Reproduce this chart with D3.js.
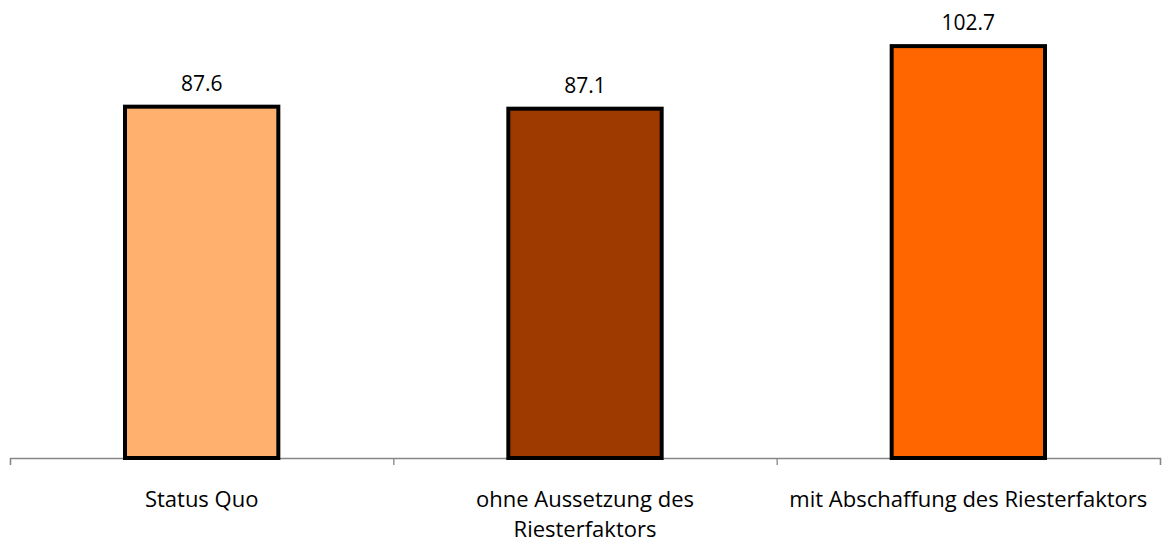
<!DOCTYPE html>
<html>
<head>
<meta charset="utf-8">
<script src="https://cdn.jsdelivr.net/npm/d3@7"></script>
<style>
  html, body { margin: 0; padding: 0; background: #fff; }
  svg { display: block; font-family: "Open Sans", "Noto Sans", sans-serif; }
</style>
</head>
<body>
<svg id="chart" width="1167" height="544"></svg>
<script>
// Scenarios and their index values
const categories = ["Status Quo", "ohne Aussetzung des\nRiesterfaktors", "mit Abschaffung des Riesterfaktors"];
const values = [87.6, 87.1, 102.7];
const valueLabels = ["87.6", "87.1", "102.7"];
const barColors = ["#FFB06E", "#9E3A00", "#FF6600"];

(function () {
  const svg = d3.select("#chart");
  const plotLeft = 10, plotRight = 1160, baseline = 458, plotTop = 0;

  const x = d3.scaleBand()
    .domain(d3.range(categories.length))
    .range([plotLeft, plotRight])
    .paddingInner(0.6)
    .paddingOuter(0.3);

  const y = d3.scaleLinear()
    .domain([0, 114.2])
    .range([baseline, plotTop]);

  // Category boundary ticks along the baseline
  const xEdges = d3.scaleLinear().domain([0, categories.length]).range([plotLeft, plotRight]);
  const axis = svg.append("g")
    .attr("transform", `translate(0,${baseline})`)
    .call(d3.axisBottom(xEdges)
      .tickValues(d3.range(categories.length + 1))
      .tickFormat("")
      .tickSizeInner(7)
      .tickSizeOuter(7));
  axis.selectAll("path, line").attr("stroke", "#868686").attr("stroke-width", 1.3);

  // Bars
  svg.append("g").selectAll("rect")
    .data(values)
    .join("rect")
    .attr("x", (d, i) => x(i))
    .attr("y", d => y(d))
    .attr("width", x.bandwidth())
    .attr("height", d => baseline - y(d))
    .attr("fill", (d, i) => barColors[i])
    .attr("stroke", "#000")
    .attr("stroke-width", 4);

  // Value labels above bars
  svg.append("g").selectAll("text")
    .data(values)
    .join("text")
    .attr("x", (d, i) => x(i) + x.bandwidth() / 2)
    .attr("y", d => y(d) - 16)
    .attr("text-anchor", "middle")
    .attr("font-size", 21)
    .attr("fill", "#000")
    .text((d, i) => valueLabels[i]);

  // Category labels (multi-line where needed)
  const catG = svg.append("g");
  categories.forEach((c, i) => {
    const cx = x(i) + x.bandwidth() / 2;
    const t = catG.append("text")
      .attr("x", cx)
      .attr("y", 507)
      .attr("text-anchor", "middle")
      .attr("font-size", 22)
      .attr("fill", "#000");
    c.split("\n").forEach((line, j) => {
      t.append("tspan")
        .attr("x", cx)
        .attr("dy", j === 0 ? 0 : 30)
        .text(line);
    });
  });
})();
</script>
</body>
</html>
